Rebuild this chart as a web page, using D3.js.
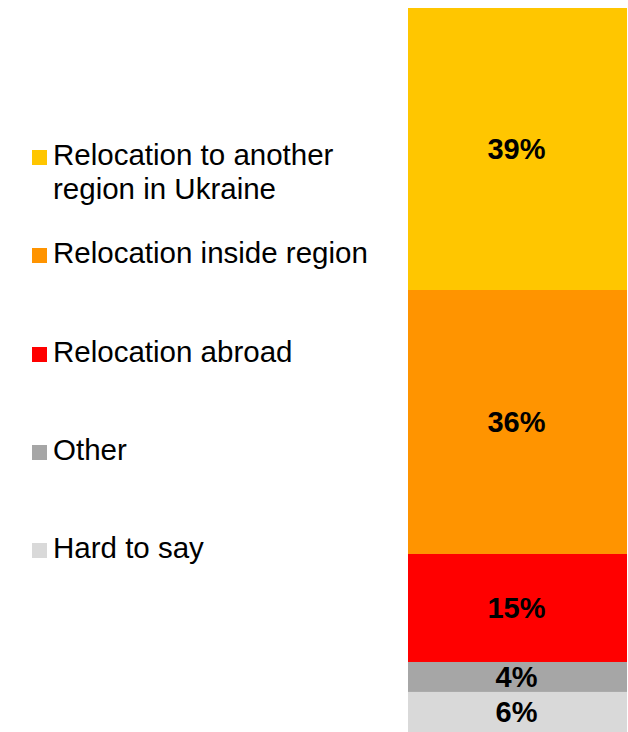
<!DOCTYPE html>
<html>
<head>
<meta charset="utf-8">
<script src="https://cdn.jsdelivr.net/npm/d3@7"></script>
<style>
html,body{margin:0;padding:0;background:#fff;}
svg{display:block;}
</style>
</head>
<body>
<div id="chart"></div>
<script>
const categories = ["Relocation to another region in Ukraine", "Relocation inside region", "Relocation abroad", "Other", "Hard to say"];
const legendLines = [["Relocation to another", "region in Ukraine"], ["Relocation inside region"], ["Relocation abroad"], ["Other"], ["Hard to say"]];
const values = [38.95, 36.46, 14.92, 4.14, 5.53];
const colors = ["#FFC600", "#FF9400", "#FF0000", "#A6A6A6", "#D9D9D9"];

const W = 628, H = 732;
const FONT = "'Liberation Sans', Arial, Helvetica, sans-serif";
const svg = d3.select("#chart").append("svg").attr("width", W).attr("height", H);

const y = d3.scaleLinear().domain([0, 100]).range([8, 732]);
const x = d3.scaleBand().domain(["all"]).range([408, 627]).padding(0);

let cum = 0;
const stacked = values.map((v, i) => { const d = {i, v, y0: cum, y1: cum + v}; cum += v; return d; });

svg.append("g").selectAll("rect").data(stacked).join("rect")
  .attr("x", x("all")).attr("width", x.bandwidth())
  .attr("y", d => y(d.y0)).attr("height", d => y(d.y1) - y(d.y0))
  .attr("fill", d => colors[d.i]);

const fmt = d3.format(".0f");
svg.append("g").selectAll("text").data(stacked).join("text")
  .attr("x", x("all") + x.bandwidth() / 2 - 1)
  .attr("y", d => (y(d.y0) + y(d.y1)) / 2 + 10)
  .attr("text-anchor", "middle")
  .style("font-family", FONT)
  .attr("font-weight", "bold").attr("font-size", 29)
  .attr("fill", "#000")
  .text(d => fmt(d.v) + "%");

const baselines = [165, 263, 362, 460, 558];
const lg = svg.append("g").selectAll("g").data(categories).join("g");
lg.append("rect").attr("x", 32).attr("width", 15).attr("height", 15)
  .attr("y", (d, i) => baselines[i] - 15).attr("fill", (d, i) => colors[i]);
lg.append("text")
  .attr("x", 53).attr("y", (d, i) => baselines[i])
  .style("font-family", FONT)
  .attr("font-size", 29.5).attr("fill", "#000")
  .selectAll("tspan").data((d, i) => legendLines[i]).join("tspan")
  .attr("x", 53).attr("dy", (d, j) => j === 0 ? 0 : 34)
  .text(d => d);
</script>
</body>
</html>
